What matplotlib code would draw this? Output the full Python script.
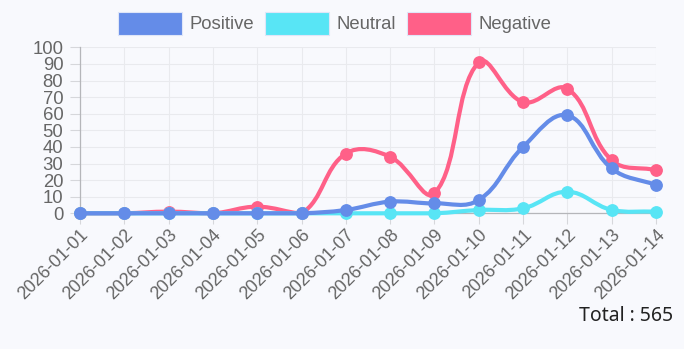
import matplotlib
matplotlib.use("Agg")
import matplotlib.pyplot as plt
from matplotlib.path import Path
from matplotlib.patches import PathPatch, Rectangle
import numpy as np

dates = ["2026-01-01", "2026-01-02", "2026-01-03", "2026-01-04", "2026-01-05",
         "2026-01-06", "2026-01-07", "2026-01-08", "2026-01-09", "2026-01-10",
         "2026-01-11", "2026-01-12", "2026-01-13", "2026-01-14"]
positive = [0, 0, 0, 0, 0, 0, 2, 7, 6, 8, 40, 59, 27, 17]
neutral = [0, 0, 0, 0, 0, 0, 0, 0, 0, 2, 3, 13, 2, 1]
negative = [0, 0, 1, 0, 4, 0, 36, 34, 12, 91, 67, 75, 32, 26]
series_names = ["Positive", "Neutral", "Negative"]
colors = ["#648ce8", "#58e5f5", "#ff6088"]
yticks = list(range(0, 101, 10))
total_label = "Total : 565"

W, H = 684, 349
BG = "#f8f9fd"
fig = plt.figure(figsize=(W / 100, H / 100), dpi=100, facecolor=BG)
L, R, T, B = 80, 656, 47.3, 213.3
ax = fig.add_axes([L / W, 1 - B / H, (R - L) / W, (B - T) / H])
ax.set_facecolor(BG)
n = len(dates)
ax.set_xlim(0, n - 1)
ax.set_ylim(0, 100)

xs_px = (R - L) / (n - 1)
ys_px = (B - T) / 100.0


def chartjs_path(vals, tension=0.4):
    pts = [(i * xs_px, v * ys_px) for i, v in enumerate(vals)]
    ctrl = []
    for i in range(len(pts)):
        prev = pts[i - 1] if i > 0 else pts[i]
        cur = pts[i]
        nxt = pts[i + 1] if i < len(pts) - 1 else pts[i]
        d01 = np.hypot(cur[0] - prev[0], cur[1] - prev[1])
        d12 = np.hypot(nxt[0] - cur[0], nxt[1] - cur[1])
        tot = d01 + d12
        s01 = d01 / tot if tot else 0
        s12 = d12 / tot if tot else 0
        fa, fb = tension * s01, tension * s12
        cp_prev = (cur[0] - fa * (nxt[0] - prev[0]), cur[1] - fa * (nxt[1] - prev[1]))
        cp_next = (cur[0] + fb * (nxt[0] - prev[0]), cur[1] + fb * (nxt[1] - prev[1]))
        ctrl.append((cp_prev, cp_next))

    def to_data(p):
        x = min(max(p[0], 0), (n - 1) * xs_px) / xs_px
        y = min(max(p[1], 0), 100 * ys_px) / ys_px
        return (x, y)

    verts = [to_data(pts[0])]
    codes = [Path.MOVETO]
    for i in range(1, len(pts)):
        verts += [to_data(ctrl[i - 1][1]), to_data(ctrl[i][0]), to_data(pts[i])]
        codes += [Path.CURVE4] * 3
    return Path(verts, codes)


# grid
for y in yticks:
    ax.axhline(y, color="#e9eaee", lw=0.8, zorder=0)
for i in range(n):
    ax.axvline(i, color="#e9eaee", lw=0.8, zorder=0)

data = [positive, neutral, negative]
# draw in reverse order so Positive is on top
for k in [2, 1, 0]:
    vals = data[k]
    z = 3 + (2 - k) * 2
    ax.add_patch(PathPatch(chartjs_path(vals), fill=False, edgecolor=colors[k],
                           lw=3.0, capstyle="round", joinstyle="round", zorder=z,
                           clip_on=False))
    ax.plot(range(n), vals, "o", color=colors[k], ms=8.2, zorder=z + 1, clip_on=False)

ax.set_xticks(range(n))
ax.set_xticklabels(dates, rotation=45, ha="right", rotation_mode="anchor")
ax.set_yticks(yticks)
ax.tick_params(axis="both", colors="#d6d7db", labelcolor="#666666", width=0.8)
ax.tick_params(axis="x", pad=1.5, length=8, labelsize=12.9)
ax.tick_params(axis="y", pad=4.5, length=7.5, labelsize=13.3)
for lab in ax.get_xticklabels() + ax.get_yticklabels():
    lab.set_fontfamily("Liberation Sans")

for s in ["top", "right"]:
    ax.spines[s].set_visible(False)
ax.spines["left"].set_color("#b5b6ba")
ax.spines["bottom"].set_color("#b5b6ba")
ax.spines["left"].set_linewidth(0.9)
ax.spines["bottom"].set_linewidth(0.9)

# legend
box_x = [118, 265, 407]
box_w, box_h = 64, 23
box_top = 12
for k, name in enumerate(series_names):
    x0 = box_x[k]
    fig.patches.append(Rectangle((x0 / W, 1 - (box_top + box_h) / H), box_w / W, box_h / H,
                                 transform=fig.transFigure, facecolor=colors[k],
                                 edgecolor="#dfe6f8", lw=0.8))
    fig.text((x0 + box_w + 7) / W, 1 - (box_top + box_h / 2 + 1) / H, name,
             ha="left", va="center", fontsize=13.3, color="#666666",
             family="Liberation Sans")

fig.text(673 / W, 1 - 316 / H, total_label, ha="right", va="center",
         fontsize=14, color="#222222", family="Noto Sans")

fig.savefig("out.png", dpi=100, facecolor=BG)
